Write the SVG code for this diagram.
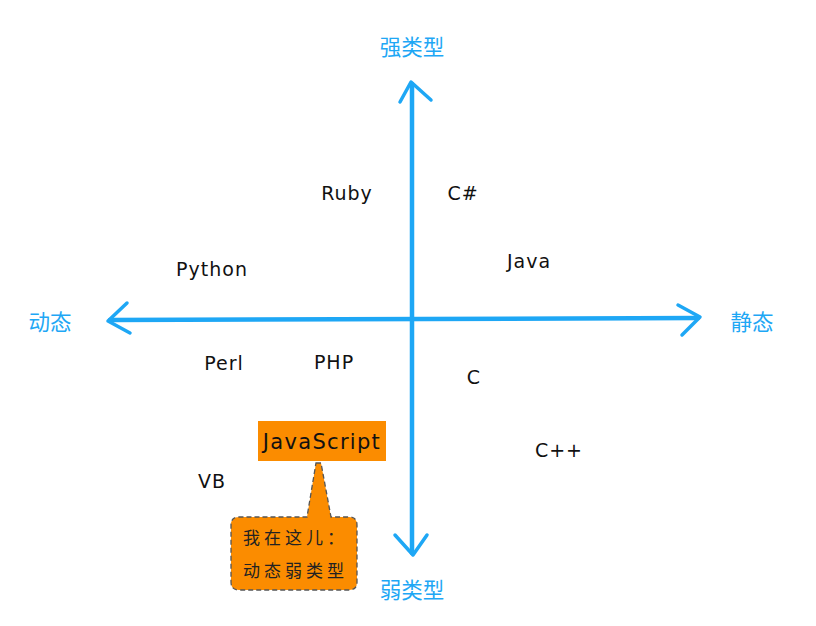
<svg xmlns="http://www.w3.org/2000/svg" width="816" height="626" viewBox="0 0 816 626">
<style>
.axis{stroke:#1ea7f5;stroke-width:4.5;fill:none;stroke-linecap:round;stroke-linejoin:round}
.head{stroke:#1ea7f5;stroke-width:3.5;fill:none;stroke-linecap:round;stroke-linejoin:round}
.axl{font-family:"Noto Sans CJK SC","Noto Sans",sans-serif;font-size:21.5px;fill:#1ea7f5;text-anchor:middle}
.lang{font-family:"DejaVu Sans","Noto Sans",sans-serif;font-size:19px;fill:#111;text-anchor:middle;letter-spacing:1px}
.note{font-family:"Noto Sans CJK SC",sans-serif;font-size:17px;fill:#222;letter-spacing:4px}
</style>
<rect width="816" height="626" fill="#fff"/>
<g id="connectors">
<path class="axis" d="M412 84 L412 553"/>
<path class="axis" d="M110 320 L698 318"/>
<path class="head" d="M400 102 L411 82 L431 100"/>
<path class="head" d="M127 303 L108 321 L130 333"/>
<path class="head" d="M678 305 L700 317 L682 335"/>
<path class="head" d="M395 535 L413 555 L427 535"/>
</g>
<g id="strong"><text class="axl" x="412" y="55">强类型</text></g>
<g id="weak"><text class="axl" x="412" y="598">弱类型</text></g>
<g id="dynamic"><text class="axl" x="50" y="330">动态</text></g>
<g id="static"><text class="axl" x="752" y="330">静态</text></g>
<g id="ruby"><text class="lang" x="347" y="200">Ruby</text></g>
<g id="csharp"><text class="lang" x="463" y="200">C#</text></g>
<g id="python"><text class="lang" x="212" y="276">Python</text></g>
<g id="java"><text class="lang" x="529" y="268">Java</text></g>
<g id="perl"><text class="lang" x="224" y="370">Perl</text></g>
<g id="php"><text class="lang" x="334" y="369">PHP</text></g>
<g id="c"><text class="lang" x="474" y="384">C</text></g>
<g id="cpp"><text class="lang" x="559" y="457">C++</text></g>
<g id="vb"><text class="lang" x="212" y="488">VB</text></g>
<g id="javascript">
<rect x="258" y="421" width="128" height="40" fill="#fb8c00"/>
<text class="lang" x="322" y="449" style="font-size:21px;letter-spacing:1.3px">JavaScript</text>
</g>
<g id="callout">
<path d="M316 463 L321 463 L331 517 L349 517 Q357 517 357 525 L357 582 Q357 590 349 590 L239 590 Q231 590 231 582 L231 525 Q231 517 239 517 L307 517 Z" fill="#fb8c00" stroke="#555" stroke-width="1.3" stroke-dasharray="5 3"/>
<text class="note" x="243" y="544">我在这儿：</text>
<text class="note" x="243" y="577">动态弱类型</text>
</g>
</svg>
